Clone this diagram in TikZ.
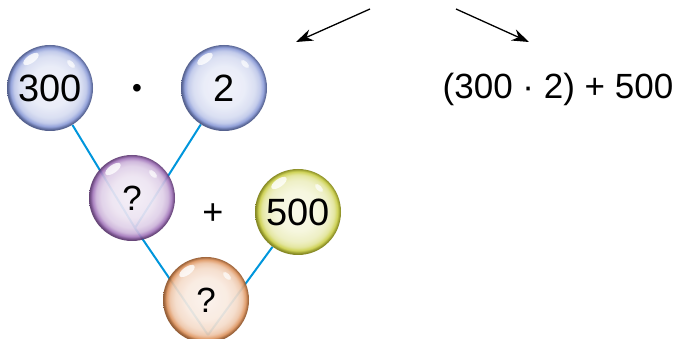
\documentclass[tikz,border=0pt]{standalone}
\usepackage{fontspec}
\setmainfont{Liberation Sans}
\usetikzlibrary{arrows.meta,backgrounds}

\definecolor{bubbleblue}{RGB}{110,130,205}
\definecolor{bubblepurple}{RGB}{140,85,170}
\definecolor{bubbleyellow}{RGB}{190,195,30}
\definecolor{bubbleorange}{RGB}{215,125,60}
\definecolor{linkblue}{RGB}{0,150,220}
\colorlet{bubblecol}{bubbleblue}

% glassy sphere, coloured by bubblecol (edge of the circle is at 25bp)
\pgfdeclareradialshading[bubblecol]{glassball}{\pgfpoint{0bp}{1bp}}{%
  color(0bp)=(bubblecol!10!white);
  color(12bp)=(bubblecol!16!white);
  color(18bp)=(bubblecol!28!white);
  color(21bp)=(bubblecol!45!white);
  color(23bp)=(bubblecol!80!white);
  color(24.5bp)=(bubblecol!70!black);
  color(26bp)=(bubblecol!55!black);
  color(50bp)=(bubblecol!55!black)}

\tikzset{
  bubble/.style={circle,minimum size=86pt,inner sep=0pt,fill opacity=0.92,text opacity=1,
    /utils/exec={\colorlet{bubblecol}{#1}},shading=glassball,
    font=\fontsize{38}{38}\selectfont,
    path picture={
      \fill[white,opacity=0.8] ([shift={(-19pt,29pt)}]path picture bounding box.center)
        ellipse [x radius=9pt,y radius=4pt,rotate=35];
      \fill[white,opacity=0.7] ([shift={(21pt,24pt)}]path picture bounding box.center)
        ellipse [x radius=5pt,y radius=2.5pt,rotate=-45];
    }},
  query/.style={font=\fontsize{35}{35}\selectfont},
  link/.style={linkblue,line width=2pt},
  pointer/.style={-{Stealth[length=17pt,width=12pt]},line width=1.3pt}
}

\begin{document}
\begin{tikzpicture}[x=1pt,y=-1pt]
\useasboundingbox (0,0) rectangle (678,339);

\node[bubble=bubbleblue] (n300) at (50,88) {300};
\node[bubble=bubbleblue] (n2) at (224,88) {2};
\node[bubble=bubblepurple,query] (prod) at (132,198) {?};
\node[bubble=bubbleyellow] (n500) at (298,212) {500};
\node[bubble=bubbleorange,query] (sum) at (206,300) {?};

\coordinate (prodv) at (135,228);
\coordinate (sumv) at (208,335);

\begin{scope}[on background layer]
\draw[link] (n300) -- (prodv) -- (sumv);
\draw[link] (n2) -- (prodv);
\draw[link] (n500) -- (sumv);
\end{scope}

\node[font=\fontsize{28}{28}\selectfont] (times) at (137,91) {\textbullet};
\node[font=\fontsize{36}{36}\selectfont] (plus) at (213,214) {+};

\node[font=\fontsize{35}{35}\selectfont] (expr) at (558,89) {(300 · 2) + 500};

\coordinate (lt) at (370,9);
\coordinate (lh) at (296,42);
\coordinate (rt) at (456,9);
\coordinate (rh) at (529,42);
\draw[pointer] (lt) -- (lh);
\draw[pointer] (rt) -- (rh);

\end{tikzpicture}
\end{document}
